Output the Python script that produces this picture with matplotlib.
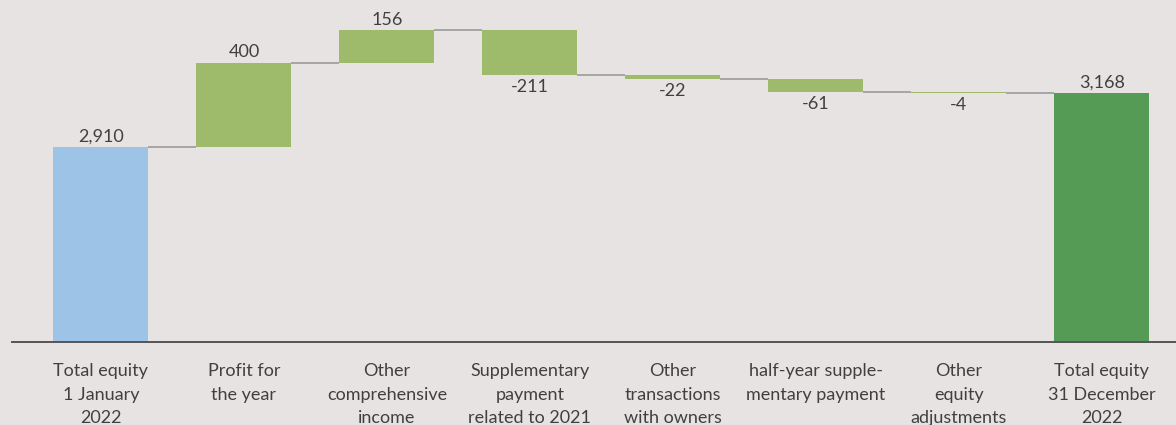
import numpy as np
import matplotlib.pyplot as plt

categories = [
    "Total equity\n1 January\n2022",
    "Profit for\nthe year",
    "Other\ncomprehensive\nincome",
    "Supplementary\npayment\nrelated to 2021",
    "Other\ntransactions\nwith owners",
    "half-year supple-\nmentary payment",
    "Other\nequity\nadjustments",
    "Total equity\n31 December\n2022",
]
opening = 2910
changes = [400, 156, -211, -22, -61, -4]
closing = 3168

BG = "#e8e3e3"
BLUE = "#9dc3e6"
LIGHT_GREEN = "#9dbb6a"
DARK_GREEN = "#559a55"
TEXT = "#404040"

plt.rcParams["font.family"] = ["Lato", "DejaVu Sans"]

fig = plt.figure(figsize=(11.76, 4.25), dpi=100, facecolor=BG)
ax = fig.add_axes([12 / 1176, 83 / 425, 1 - 12 / 1176, 342 / 425], facecolor=BG)

width = 0.665
x = np.arange(len(categories))

# running totals before and after each change
levels = np.concatenate([[opening], opening + np.cumsum(changes)])
starts = levels[:-1]

ax.bar(x[0], opening, width=width, color=BLUE)
ax.bar(x[-1], closing, width=width, color=DARK_GREEN)
ax.bar(x[1:-1], changes, bottom=starts, width=width, color=LIGHT_GREEN)

# connectors between bars
for i in range(len(categories) - 1):
    ax.plot([x[i] + width / 2, x[i + 1] - width / 2], [levels[i], levels[i]],
            color="#a0a0a0", lw=1.3, solid_capstyle="butt")

fmt = lambda v: f"{v:,}"
fs = 13
ax.text(x[0], opening + 12, fmt(opening), ha="center", va="bottom", fontsize=fs, color=TEXT)
ax.text(x[-1], closing + 12, fmt(closing), ha="center", va="bottom", fontsize=fs, color=TEXT)
for xi, s, d in zip(x[1:-1], starts, changes):
    if d >= 0:
        ax.text(xi, s + d + 12, fmt(d), ha="center", va="bottom", fontsize=fs, color=TEXT)
    else:
        ax.text(xi, s + d - 20, fmt(d), ha="center", va="top", fontsize=fs, color=TEXT)

ax.set_xlim(-0.622, 7.52)
ax.set_ylim(1981, 3610)
ax.set_xticks(x)
ax.set_xticklabels(categories, fontsize=fs, color=TEXT, linespacing=1.6)
ax.tick_params(axis="x", length=0, pad=15)
ax.set_yticks([])
for side in ["top", "right", "left"]:
    ax.spines[side].set_visible(False)
ax.spines["bottom"].set_color("#555555")
ax.spines["bottom"].set_linewidth(1.4)

fig.savefig("out.png", dpi=100, facecolor=BG)
